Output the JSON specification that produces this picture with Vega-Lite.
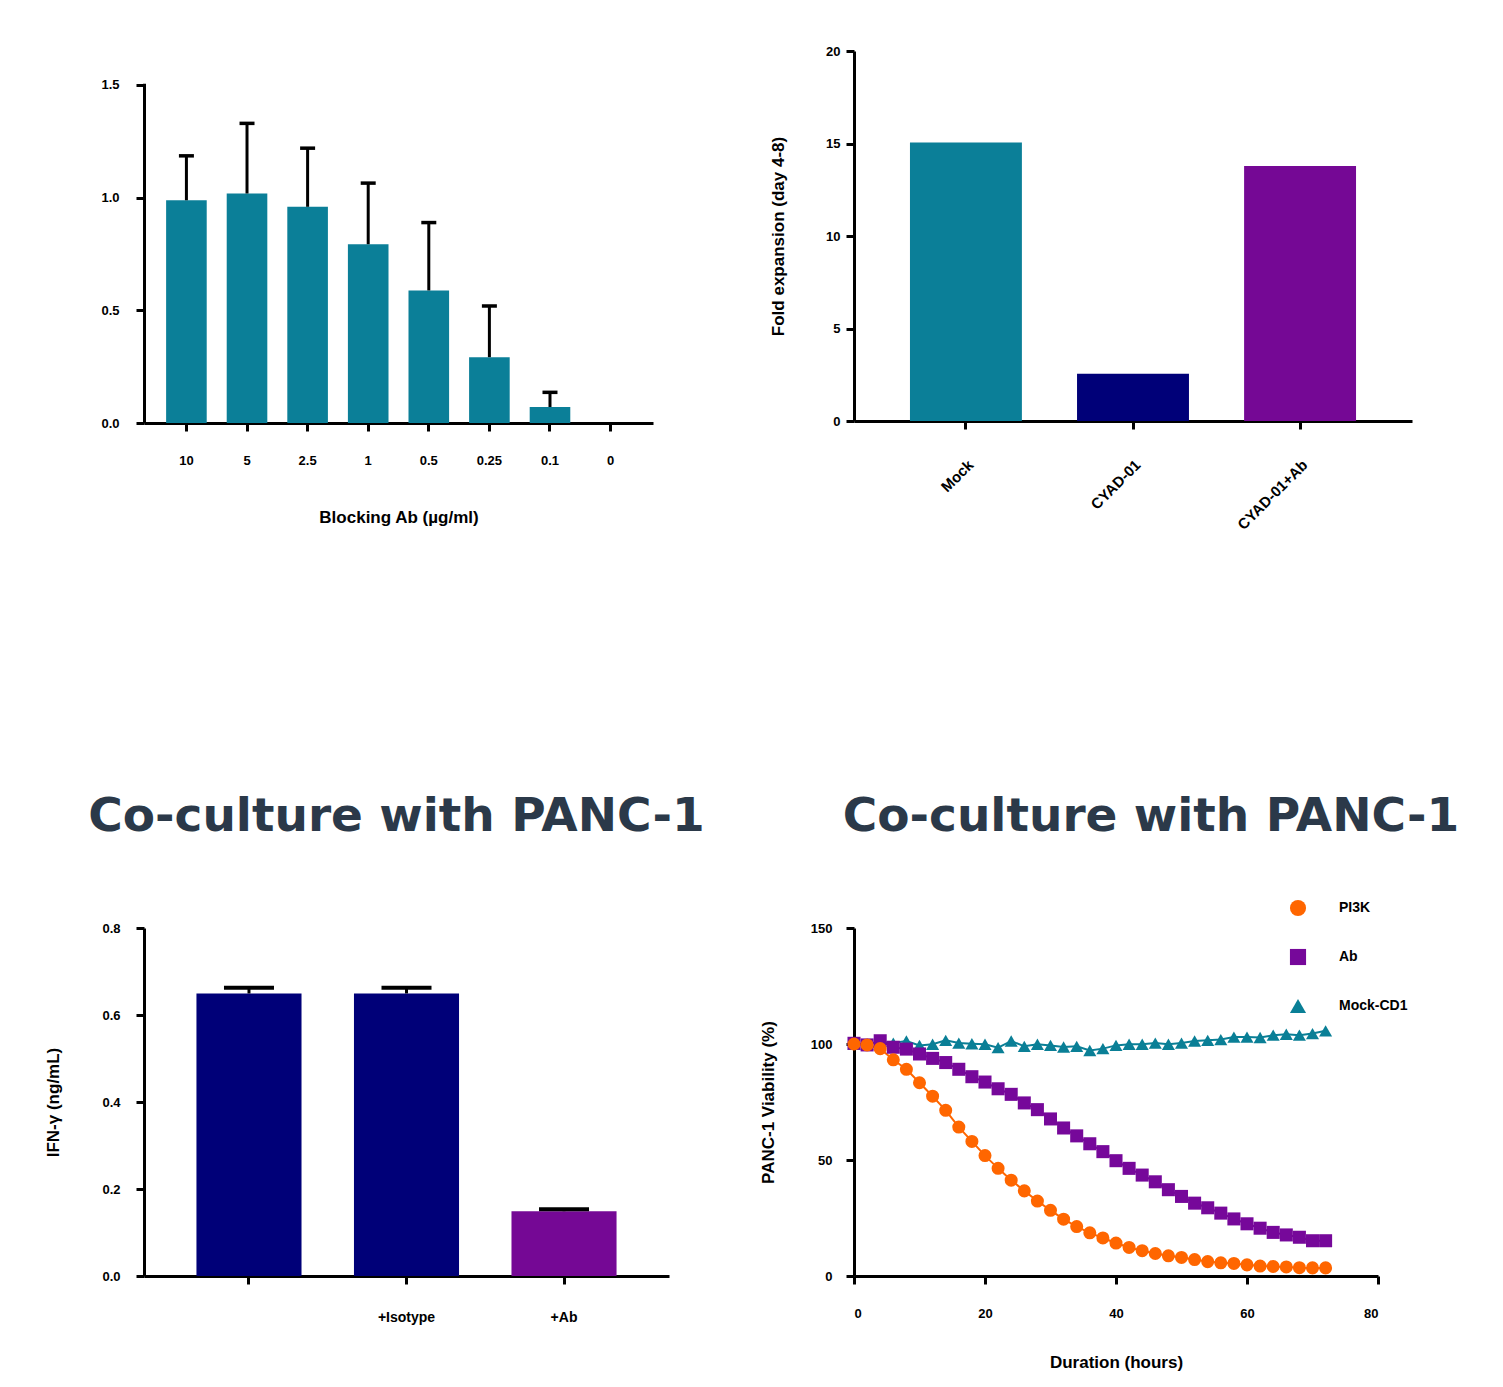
{
  "$schema": "https://vega.github.io/schema/vega-lite/v6.json",
  "background": "white",
  "padding": {"left": 44, "top": 45, "right": 5, "bottom": 5},
  "columns": 2,
  "bounds": "flush",
  "spacing": {"row": 505, "column": 185},
  "resolve": {"scale": {"color": "independent", "shape": "independent", "stroke": "independent"}},
  "config": {
    "view": {"stroke": null},
    "axis": {
      "grid": false,
      "labelFont": "Liberation Sans",
      "labelFontSize": 13,
      "labelFontWeight": "bold",
      "labelColor": "black",
      "titleFont": "Liberation Sans",
      "titleFontSize": 17,
      "titleFontWeight": "bold",
      "titleColor": "black",
      "domainColor": "black",
      "domainWidth": 3,
      "domainCap": "butt",
      "tickColor": "black",
      "tickWidth": 3,
      "tickSize": 8
    },
    "title": {
      "font": "DejaVu Sans",
      "fontSize": 47,
      "fontWeight": "bold",
      "color": "#2b3949",
      "anchor": "middle",
      "frame": "group",
      "baseline": "alphabetic",
      "offset": 81
    }
  },
  "concat": [
    {
      "width": 509,
      "height": 372,
      "data": {"values": [
        {"dose": "10", "mean": 0.988, "upper": 1.185},
        {"dose": "5", "mean": 1.018, "upper": 1.329},
        {"dose": "2.5", "mean": 0.959, "upper": 1.219},
        {"dose": "1", "mean": 0.793, "upper": 1.064},
        {"dose": "0.5", "mean": 0.588, "upper": 0.889},
        {"dose": "0.25", "mean": 0.292, "upper": 0.519},
        {"dose": "0.1", "mean": 0.071, "upper": 0.136},
        {"dose": "0", "mean": 0}
      ]},
      "encoding": {
        "x": {
          "field": "dose", "type": "nominal",
          "sort": ["10", "5", "2.5", "1", "0.5", "0.25", "0.1", "0"],
          "scale": {"paddingInner": 0.33, "paddingOuter": 0.365},
          "axis": {"title": "Blocking Ab (µg/ml)", "labelAngle": 0, "labelPadding": 23, "titlePadding": 42}
        },
        "y": {
          "field": "mean", "type": "quantitative",
          "scale": {"domain": [0, 1.65]},
          "axis": {
            "title": null, "values": [0, 0.5, 1, 1.5], "format": ".1f", "labelPadding": 17,
            "domainDash": [339.7, 60]
          }
        }
      },
      "layer": [
        {
          "mark": {"type": "bar", "color": "#0b7f98"}
        },
        {
          "transform": [{"filter": "isValid(datum.upper)"}],
          "mark": {"type": "rule", "color": "black", "strokeWidth": 3},
          "encoding": {
            "y2": {"field": "upper"}
          }
        },
        {
          "transform": [{"filter": "isValid(datum.upper)"}],
          "mark": {"type": "tick", "color": "black", "thickness": 3.5, "size": 15, "opacity": 1},
          "encoding": {
            "y": {
              "field": "upper", "type": "quantitative",
              "axis": {
                "title": null, "values": [0, 0.5, 1, 1.5], "format": ".1f", "labelPadding": 17,
                "domainDash": [339.7, 60]
              }
            }
          }
        }
      ]
    },
    {
      "width": 558,
      "height": 370,
      "data": {"values": [
        {"group": "Mock", "fold": 15.05},
        {"group": "CYAD-01", "fold": 2.56},
        {"group": "CYAD-01+Ab", "fold": 13.79}
      ]},
      "mark": {"type": "bar"},
      "encoding": {
        "x": {
          "field": "group", "type": "nominal",
          "sort": ["Mock", "CYAD-01", "CYAD-01+Ab"],
          "scale": {"paddingInner": 0.33, "paddingOuter": 0.335},
          "axis": {"title": null, "labelAngle": -45, "labelPadding": 28, "labelFontSize": 15}
        },
        "y": {
          "field": "fold", "type": "quantitative",
          "scale": {"domain": [0, 20]},
          "axis": {"title": "Fold expansion (day 4-8)", "values": [0, 5, 10, 15, 20], "labelPadding": 6, "titlePadding": 38}
        },
        "color": {
          "field": "group", "type": "nominal",
          "scale": {"domain": ["Mock", "CYAD-01", "CYAD-01+Ab"], "range": ["#0b7f98", "#000078", "#750895"]},
          "legend": null
        }
      }
    },
    {
      "width": 525,
      "height": 348,
      "title": {"text": "Co-culture with PANC-1", "dx": -10},
      "data": {"values": [
        {"group": "", "ifn": 0.6495, "upper": 0.6625},
        {"group": "+Isotype", "ifn": 0.6495, "upper": 0.6625},
        {"group": "+Ab", "ifn": 0.149, "upper": 0.1536}
      ]},
      "encoding": {
        "x": {
          "field": "group", "type": "nominal",
          "sort": ["", "+Isotype", "+Ab"],
          "scale": {"paddingInner": 0.333, "paddingOuter": 0.333},
          "axis": {"title": null, "labelAngle": 0, "labelPadding": 26, "labelFontSize": 14}
        },
        "y": {
          "field": "ifn", "type": "quantitative",
          "scale": {"domain": [0, 0.8]},
          "axis": {"title": "IFN-γ (ng/mL)", "values": [0, 0.2, 0.4, 0.6, 0.8], "format": ".1f", "labelPadding": 16, "titlePadding": 39}
        }
      },
      "layer": [
        {
          "mark": {"type": "bar"},
          "encoding": {
            "color": {
              "field": "group", "type": "nominal",
              "scale": {"domain": ["", "+Isotype", "+Ab"], "range": ["#000078", "#000078", "#750895"]},
              "legend": null
            }
          }
        },
        {
          "mark": {"type": "rule", "color": "black", "strokeWidth": 3},
          "encoding": {
            "y2": {"field": "upper"}
          }
        },
        {
          "mark": {"type": "tick", "color": "black", "thickness": 4, "size": 50, "opacity": 1},
          "encoding": {
            "y": {"field": "upper", "type": "quantitative",
              "axis": {"title": "IFN-γ (ng/mL)", "values": [0, 0.2, 0.4, 0.6, 0.8], "format": ".1f", "labelPadding": 16, "titlePadding": 39}}
          }
        }
      ]
    },
    {
      "width": 524,
      "height": 348,
      "title": {"text": "Co-culture with PANC-1", "dx": 35, "offset": 58},
      "data": {"values": [
        {"series": "Mock-CD1", "h": 0, "v": 100},
        {"series": "Mock-CD1", "h": 2, "v": 100},
        {"series": "Mock-CD1", "h": 4, "v": 101},
        {"series": "Mock-CD1", "h": 6, "v": 100.4},
        {"series": "Mock-CD1", "h": 8, "v": 101.3},
        {"series": "Mock-CD1", "h": 10, "v": 99.4},
        {"series": "Mock-CD1", "h": 12, "v": 99.9},
        {"series": "Mock-CD1", "h": 14, "v": 101.6},
        {"series": "Mock-CD1", "h": 16, "v": 100.4},
        {"series": "Mock-CD1", "h": 18, "v": 100.1},
        {"series": "Mock-CD1", "h": 20, "v": 99.9},
        {"series": "Mock-CD1", "h": 22, "v": 98.4},
        {"series": "Mock-CD1", "h": 24, "v": 101.3},
        {"series": "Mock-CD1", "h": 26, "v": 99},
        {"series": "Mock-CD1", "h": 28, "v": 99.9},
        {"series": "Mock-CD1", "h": 30, "v": 99.4},
        {"series": "Mock-CD1", "h": 32, "v": 98.7},
        {"series": "Mock-CD1", "h": 34, "v": 99},
        {"series": "Mock-CD1", "h": 36, "v": 97.2},
        {"series": "Mock-CD1", "h": 38, "v": 98},
        {"series": "Mock-CD1", "h": 40, "v": 99.4},
        {"series": "Mock-CD1", "h": 42, "v": 99.9},
        {"series": "Mock-CD1", "h": 44, "v": 99.9},
        {"series": "Mock-CD1", "h": 46, "v": 100.4},
        {"series": "Mock-CD1", "h": 48, "v": 99.9},
        {"series": "Mock-CD1", "h": 50, "v": 100.4},
        {"series": "Mock-CD1", "h": 52, "v": 101.3},
        {"series": "Mock-CD1", "h": 54, "v": 101.6},
        {"series": "Mock-CD1", "h": 56, "v": 101.9},
        {"series": "Mock-CD1", "h": 58, "v": 103},
        {"series": "Mock-CD1", "h": 60, "v": 103},
        {"series": "Mock-CD1", "h": 62, "v": 102.8},
        {"series": "Mock-CD1", "h": 64, "v": 103.8},
        {"series": "Mock-CD1", "h": 66, "v": 104.2},
        {"series": "Mock-CD1", "h": 68, "v": 103.8},
        {"series": "Mock-CD1", "h": 70, "v": 104.5},
        {"series": "Mock-CD1", "h": 72, "v": 105.7},
        {"series": "Ab", "h": 0, "v": 100.3},
        {"series": "Ab", "h": 2, "v": 99.6},
        {"series": "Ab", "h": 4, "v": 101.4},
        {"series": "Ab", "h": 6, "v": 98.6},
        {"series": "Ab", "h": 8, "v": 97.8},
        {"series": "Ab", "h": 10, "v": 95.7},
        {"series": "Ab", "h": 12, "v": 93.8},
        {"series": "Ab", "h": 14, "v": 92},
        {"series": "Ab", "h": 16, "v": 89.1},
        {"series": "Ab", "h": 18, "v": 85.9},
        {"series": "Ab", "h": 20, "v": 83.6},
        {"series": "Ab", "h": 22, "v": 80.7},
        {"series": "Ab", "h": 24, "v": 78.3},
        {"series": "Ab", "h": 26, "v": 74.6},
        {"series": "Ab", "h": 28, "v": 71.7},
        {"series": "Ab", "h": 30, "v": 67.7},
        {"series": "Ab", "h": 32, "v": 63.8},
        {"series": "Ab", "h": 34, "v": 60.4},
        {"series": "Ab", "h": 36, "v": 57},
        {"series": "Ab", "h": 38, "v": 53.6},
        {"series": "Ab", "h": 40, "v": 49.7},
        {"series": "Ab", "h": 42, "v": 46.4},
        {"series": "Ab", "h": 44, "v": 43.5},
        {"series": "Ab", "h": 46, "v": 40.6},
        {"series": "Ab", "h": 48, "v": 37.2},
        {"series": "Ab", "h": 50, "v": 34.3},
        {"series": "Ab", "h": 52, "v": 31.4},
        {"series": "Ab", "h": 54, "v": 29.4},
        {"series": "Ab", "h": 56, "v": 27.1},
        {"series": "Ab", "h": 58, "v": 24.6},
        {"series": "Ab", "h": 60, "v": 22.5},
        {"series": "Ab", "h": 62, "v": 20.6},
        {"series": "Ab", "h": 64, "v": 18.8},
        {"series": "Ab", "h": 66, "v": 17.7},
        {"series": "Ab", "h": 68, "v": 16.7},
        {"series": "Ab", "h": 70, "v": 15.2},
        {"series": "Ab", "h": 72, "v": 15.2},
        {"series": "PI3K", "h": 0, "v": 100},
        {"series": "PI3K", "h": 2, "v": 99.6},
        {"series": "PI3K", "h": 4, "v": 98},
        {"series": "PI3K", "h": 6, "v": 93.2},
        {"series": "PI3K", "h": 8, "v": 89.1},
        {"series": "PI3K", "h": 10, "v": 83.3},
        {"series": "PI3K", "h": 12, "v": 77.5},
        {"series": "PI3K", "h": 14, "v": 71.4},
        {"series": "PI3K", "h": 16, "v": 64.2},
        {"series": "PI3K", "h": 18, "v": 58},
        {"series": "PI3K", "h": 20, "v": 51.9},
        {"series": "PI3K", "h": 22, "v": 46.4},
        {"series": "PI3K", "h": 24, "v": 41.3},
        {"series": "PI3K", "h": 26, "v": 36.7},
        {"series": "PI3K", "h": 28, "v": 32.3},
        {"series": "PI3K", "h": 30, "v": 28.3},
        {"series": "PI3K", "h": 32, "v": 24.5},
        {"series": "PI3K", "h": 34, "v": 21.3},
        {"series": "PI3K", "h": 36, "v": 18.6},
        {"series": "PI3K", "h": 38, "v": 16.4},
        {"series": "PI3K", "h": 40, "v": 14.2},
        {"series": "PI3K", "h": 42, "v": 12.3},
        {"series": "PI3K", "h": 44, "v": 10.9},
        {"series": "PI3K", "h": 46, "v": 9.7},
        {"series": "PI3K", "h": 48, "v": 8.7},
        {"series": "PI3K", "h": 50, "v": 8},
        {"series": "PI3K", "h": 52, "v": 7.1},
        {"series": "PI3K", "h": 54, "v": 6.2},
        {"series": "PI3K", "h": 56, "v": 5.7},
        {"series": "PI3K", "h": 58, "v": 5.4},
        {"series": "PI3K", "h": 60, "v": 4.8},
        {"series": "PI3K", "h": 62, "v": 4.3},
        {"series": "PI3K", "h": 64, "v": 4.1},
        {"series": "PI3K", "h": 66, "v": 3.9},
        {"series": "PI3K", "h": 68, "v": 3.6},
        {"series": "PI3K", "h": 70, "v": 3.5},
        {"series": "PI3K", "h": 72, "v": 3.5}
      ]},
      "encoding": {
        "x": {
          "field": "h", "type": "quantitative",
          "scale": {"domain": [0, 80]},
          "axis": {"title": "Duration (hours)", "values": [0, 20, 40, 60, 80], "labelPadding": 23, "titlePadding": 34}
        },
        "y": {
          "field": "v", "type": "quantitative",
          "scale": {"domain": [0, 150]},
          "axis": {"title": "PANC-1 Viability (%)", "values": [0, 50, 100, 150], "labelPadding": 14, "titlePadding": 33}
        }
      },
      "layer": [
        {
          "mark": {"type": "line", "strokeWidth": 2},
          "encoding": {
            "stroke": {
              "field": "series", "type": "nominal",
              "scale": {"domain": ["Mock-CD1", "PI3K", "Ab"], "range": ["#0a7f96", "#ff6600", "#76089a"]},
              "legend": null
            }
          }
        },
        {
          "mark": {"type": "point", "filled": true, "size": 170, "opacity": 1},
          "encoding": {
            "color": {
              "field": "series", "type": "nominal",
              "scale": {"domain": ["PI3K", "Ab", "Mock-CD1"], "range": ["#ff6600", "#76089a", "#0a7f96"]},
              "legend": {
                "orient": "none", "legendX": 435, "legendY": -29, "title": null,
                "labelFont": "Liberation Sans", "labelFontSize": 14, "labelFontWeight": "bold", "labelColor": "black",
                "labelOffset": 32, "rowPadding": 31, "symbolSize": 260
              }
            },
            "shape": {
              "field": "series", "type": "nominal",
              "scale": {"domain": ["PI3K", "Ab", "Mock-CD1"], "range": ["circle", "square", "triangle-up"]},
              "legend": {
                "orient": "none", "legendX": 435, "legendY": -29, "title": null,
                "labelFont": "Liberation Sans", "labelFontSize": 14, "labelFontWeight": "bold", "labelColor": "black",
                "labelOffset": 32, "rowPadding": 31, "symbolSize": 260
              }
            }
          }
        }
      ]
    }
  ]
}
